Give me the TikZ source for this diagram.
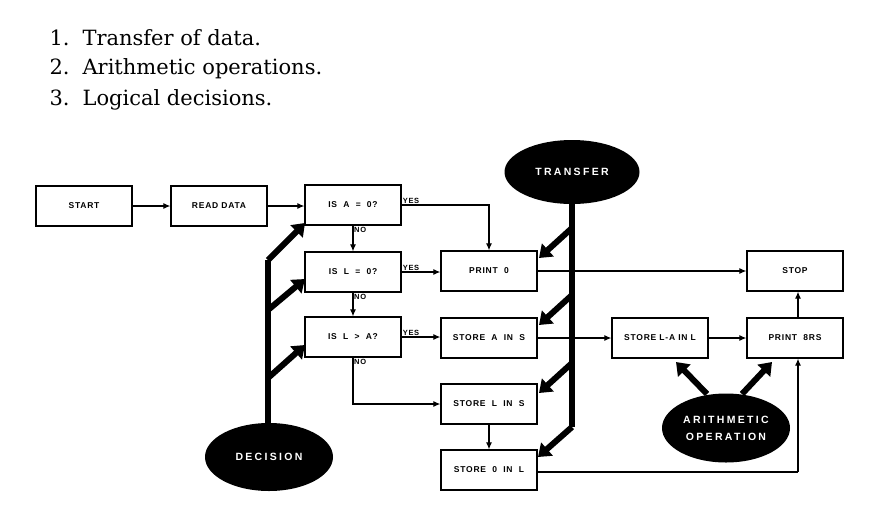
\documentclass[tikz,border=0pt]{standalone}
\usepackage{fontspec}
\setmainfont{DejaVu Serif}
\newfontfamily\labfont[LetterSpace=9]{Liberation Sans}
\newfontfamily\ellfont[LetterSpace=22]{Liberation Sans}
\usetikzlibrary{arrows.meta,shapes.geometric}
\begin{document}
\begin{tikzpicture}[x=1pt,y=-1pt,
  box/.style={draw,line width=1.3pt,minimum width=96pt,minimum height=40pt,inner sep=0pt,
    font=\labfont\bfseries\fontsize{8.5}{10}\selectfont},
  blob/.style={ellipse,fill=black,text=white,inner sep=0pt,align=center,
    font=\ellfont\bfseries\fontsize{10.5}{17}\selectfont},
  flow/.style={line width=1.1pt,-{Latex[length=7pt,width=6pt]}},
  plain/.style={line width=1.1pt},
  thick/.style={line width=6pt,line join=miter},
  thicka/.style={line width=6pt,line join=miter,-{Triangle[length=12pt,width=17pt]}},
  tag/.style={font=\labfont\bfseries\fontsize{7.5}{8}\selectfont,inner sep=1pt},
  listitem/.style={anchor=west,font=\fontsize{21}{24}\selectfont}]
\useasboundingbox (0,0) rectangle (870,512);
% list
\node[listitem] (l1) at (46,38) {1.\hspace{13pt}Transfer of data.};
\node[listitem] (l2) at (46,69) {2.\hspace{13pt}Arithmetic operations.};
\node[listitem] (l3) at (46,100) {3.\hspace{13pt}Logical decisions.};
% boxes
\node[box] (start) at (84,206) {START};
\node[box] (read) at (219,206) {READ\ DATA};
\node[box] (qa) at (353,205) {IS\ \ A\ \ =\ \ 0?};
\node[box] (ql) at (353,272) {IS\ \ L\ \ =\ \ 0?};
\node[box] (qla) at (353,337) {IS\ \ L\ \ >\ \ A?};
\node[box] (p0) at (489,271) {PRINT\ \ 0};
\node[box] (sas) at (489,338) {STORE\ \ A\ \ IN\ \ S};
\node[box] (sls) at (489,404) {STORE\ \ L\ \ IN\ \ S};
\node[box] (s0l) at (489,470) {STORE\ \ 0\ \ IN\ \ L};
\node[box] (sla) at (660,338) {STORE L-A IN L};
\node[box] (pb) at (795,338) {PRINT\ \ 8RS};
\node[box] (stop) at (795,271) {STOP};
% ellipses
\node[blob,minimum width=135pt,minimum height=64pt] (tr) at (572,172) {TRANSFER};
\node[blob,minimum width=128pt,minimum height=68pt] (de) at (269,457) {DECISION};
\node[blob,minimum width=128pt,minimum height=69pt] (ar) at (726,428) {ARITHMETIC\\OPERATION};
% thin flow
\draw[flow] (start) -- (read);
\draw[flow] (read.east) -- (read.east -| qa.west);
\draw[flow] (qa.east) -| (p0.north);
\node[tag,anchor=south west] (y1) at (qa.east) {YES};
\draw[flow] (qa.south) -- (ql.north);
\node[tag,anchor=north west] (n1) at (qa.south) {NO};
\draw[flow] (ql.east) -- (ql.east -| p0.west);
\node[tag,anchor=south west] (y2) at (ql.east) {YES};
\draw[flow] (ql.south) -- (qla.north);
\node[tag,anchor=north west] (n2) at (ql.south) {NO};
\draw[flow] (qla.east) -- (qla.east -| sas.west);
\node[tag,anchor=south west] (y3) at (qla.east) {YES};
\draw[flow] (qla.south) |- (sls.west);
\node[tag,anchor=north west] (n3) at (qla.south) {NO};
\draw[flow] (sls.south) -- (s0l.north);
\draw[flow] (p0.east) -- (p0.east -| stop.west);
\draw[flow] (sas.east) -- (sas.east -| sla.west);
\draw[flow] (sla) -- (pb);
\draw[flow] (pb.north -| 798,0) -- (stop.south -| 798,0);
\coordinate (corner) at (798,472);
\draw[plain] (s0l.east |- corner) -- (corner);
\draw[flow] (corner) -- (pb.south -| corner);
% decision thick
\coordinate (d0) at (268,260);
\coordinate (d1) at (268,310);
\coordinate (d2) at (268,378);
\draw[thick] (de.north -| d0) -- (d0);
\draw[thicka] (d0) -- (305,223);
\draw[thicka] (d1) -- (305,279);
\draw[thicka] (d2) -- (305,345);
% transfer thick
\coordinate (t0) at (572,427);
\coordinate (t1) at (572,228);
\coordinate (t2) at (572,295);
\coordinate (t3) at (572,363);
\draw[thick] (tr.south -| t0) -- (t0);
\draw[thicka] (t0) -- (538,457);
\draw[thicka] (t1) -- (539,258);
\draw[thicka] (t2) -- (539,325);
\draw[thicka] (t3) -- (539,393);
% arithmetic thick
\coordinate (a1) at (707,394);
\coordinate (a2) at (742,394);
\draw[thicka] (a1) -- (676,362);
\draw[thicka] (a2) -- (772,362);
\end{tikzpicture}
\end{document}
